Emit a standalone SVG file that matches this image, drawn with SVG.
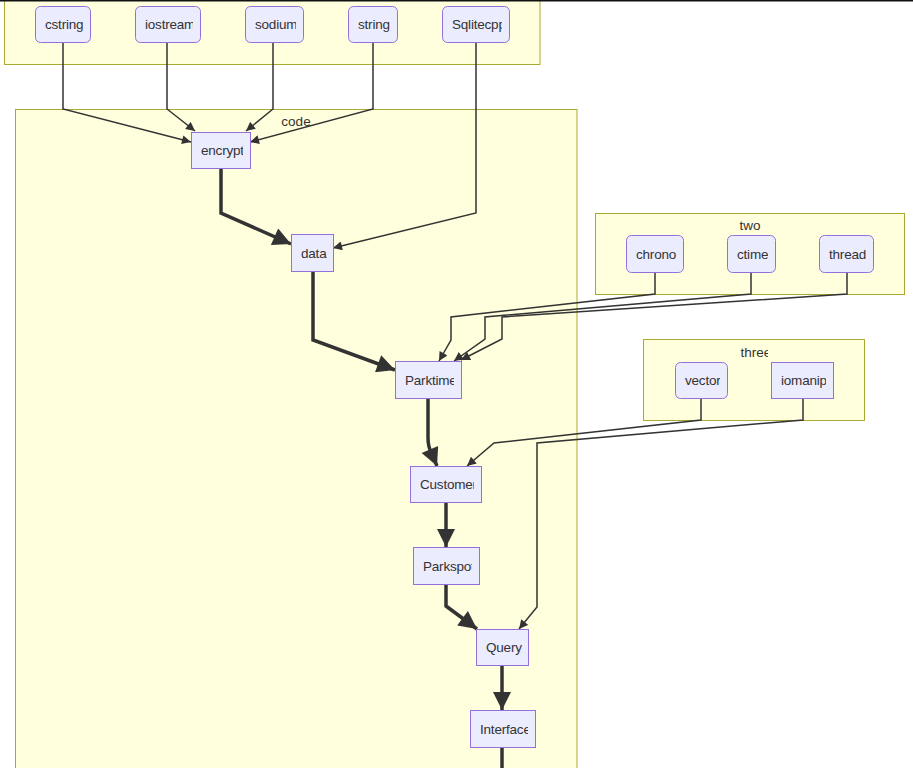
<svg xmlns="http://www.w3.org/2000/svg" width="913" height="768" viewBox="0 0 913 768">
<style>
.cl{fill:#ffffde;stroke:#aaaa33;stroke-width:1}
.nd{fill:#ececff;stroke:#9370db;stroke-width:1}
.t{font-family:"Liberation Sans",Arial,sans-serif;font-size:13.5px;letter-spacing:-0.2px;fill:#333}
.ct{font-family:"Liberation Sans",Arial,sans-serif;font-size:13.5px;fill:#333;text-anchor:middle}
.e{fill:none;stroke:#333;stroke-width:1.5}
.et{fill:none;stroke:#333;stroke-width:3.5}
</style>
<defs>
<marker id="a" viewBox="0 0 10 10" refX="10" refY="5" markerWidth="10" markerHeight="9" markerUnits="userSpaceOnUse" orient="auto"><path d="M0,0L10,5L0,10z" fill="#333"/></marker>
<marker id="A" viewBox="0 0 10 10" refX="10" refY="5" markerWidth="21" markerHeight="18" markerUnits="userSpaceOnUse" orient="auto"><path d="M0,0L10,5L0,10z" fill="#333"/></marker>
<clipPath id="c1"><rect x="35" y="6" width="48" height="36"/></clipPath>
<clipPath id="c2"><rect x="135" y="6" width="58" height="36"/></clipPath>
<clipPath id="c3"><rect x="245" y="6" width="51" height="36"/></clipPath>
<clipPath id="c4"><rect x="348" y="6" width="42" height="36"/></clipPath>
<clipPath id="c5"><rect x="442" y="6" width="60" height="36"/></clipPath>
<clipPath id="c6"><rect x="191" y="132" width="52" height="36"/></clipPath>
<clipPath id="c7"><rect x="291" y="234" width="36" height="37"/></clipPath>
<clipPath id="c8"><rect x="395" y="361" width="59" height="37"/></clipPath>
<clipPath id="c9"><rect x="410" y="466" width="64" height="36"/></clipPath>
<clipPath id="c10"><rect x="413" y="547" width="59" height="37"/></clipPath>
<clipPath id="c11"><rect x="476" y="629" width="47" height="36"/></clipPath>
<clipPath id="c12"><rect x="470" y="710" width="58" height="37"/></clipPath>
<clipPath id="c13"><rect x="626" y="235" width="51" height="37"/></clipPath>
<clipPath id="c14"><rect x="727" y="235" width="41" height="37"/></clipPath>
<clipPath id="c15"><rect x="819" y="235" width="47" height="37"/></clipPath>
<clipPath id="c16"><rect x="675" y="362" width="45" height="36"/></clipPath>
<clipPath id="c17"><rect x="771" y="362" width="55" height="36"/></clipPath>
<clipPath id="c18"><rect x="700" y="340" width="68" height="20"/></clipPath>
</defs>
<rect x="0" y="0" width="913" height="768" fill="#fff"/>
<g id="cluster-top"><rect class="cl" x="4.5" y="-10" width="535.5" height="74.5"/></g>
<g id="cluster-code"><rect class="cl" x="15.5" y="109.5" width="561.5" height="670"/><text class="ct" x="296" y="126">code</text></g>
<g id="cluster-two"><rect class="cl" x="595.5" y="213.5" width="309" height="81"/><text class="ct" x="750" y="230">two</text></g>
<g id="cluster-three"><rect class="cl" x="643.5" y="339.5" width="221" height="81"/><text class="ct" x="756" y="357" clip-path="url(#c18)">three</text></g>
<rect x="0" y="0" width="913" height="1.5" fill="#111"/>
<g id="edges">
<path class="e" d="M63,42V109L191,142" marker-end="url(#a)"/>
<path class="e" d="M167,42V109L195,131" marker-end="url(#a)"/>
<path class="e" d="M273,42V109L246,131" marker-end="url(#a)"/>
<path class="e" d="M373,42V109L250,142" marker-end="url(#a)"/>
<path class="e" d="M476,42V213L333,248" marker-end="url(#a)"/>
<path class="et" d="M221,168V213L291,244" marker-end="url(#A)"/>
<path class="et" d="M313,271V340L395,370" marker-end="url(#A)"/>
<path class="e" d="M655,272V294L451,317V340L439,361" marker-end="url(#a)"/>
<path class="e" d="M751,272V294L485,317V339L454,361" marker-end="url(#a)"/>
<path class="e" d="M847,272V294L502,317V339L461,360" marker-end="url(#a)"/>
<path class="et" d="M428,398V438Q428,446 431,452L437,466" marker-end="url(#A)"/>
<path class="e" d="M701,398V420L494,443L467,466" marker-end="url(#a)"/>
<path class="e" d="M803,398V420L537,443V607L519,629" marker-end="url(#a)"/>
<path class="et" d="M446,502V547" marker-end="url(#A)"/>
<path class="et" d="M446,584V606L477,629" marker-end="url(#A)"/>
<path class="et" d="M502,665V710" marker-end="url(#A)"/>
<path class="et" d="M502,747V768"/>
</g>
<g id="cstring"><rect class="nd" x="35.5" y="6.5" width="55" height="36" rx="5"/><text class="t" x="45" y="29" clip-path="url(#c1)">cstring</text></g>
<g id="iostream"><rect class="nd" x="135.5" y="6.5" width="65" height="36" rx="5"/><text class="t" x="145" y="29" clip-path="url(#c2)">iostream</text></g>
<g id="sodium"><rect class="nd" x="245.5" y="6.5" width="58" height="36" rx="5"/><text class="t" x="255" y="29" clip-path="url(#c3)">sodium</text></g>
<g id="string"><rect class="nd" x="348.5" y="6.5" width="49" height="36" rx="5"/><text class="t" x="358" y="29" clip-path="url(#c4)">string</text></g>
<g id="Sqlitecpp"><rect class="nd" x="442.5" y="6.5" width="67" height="36" rx="5"/><text class="t" x="452" y="29" clip-path="url(#c5)">Sqlitecpp</text></g>
<g id="encrypt"><rect class="nd" x="191.5" y="132.5" width="59" height="36"/><text class="t" x="201" y="155" clip-path="url(#c6)">encrypt</text></g>
<g id="data"><rect class="nd" x="291.5" y="234.5" width="42" height="37"/><text class="t" x="301" y="258" clip-path="url(#c7)">data</text></g>
<g id="Parktime"><rect class="nd" x="395.5" y="361.5" width="66" height="37"/><text class="t" x="405" y="385" clip-path="url(#c8)">Parktime</text></g>
<g id="Customer"><rect class="nd" x="410.5" y="466.5" width="71" height="36"/><text class="t" x="420" y="489" clip-path="url(#c9)">Customer</text></g>
<g id="Parkspot"><rect class="nd" x="413.5" y="547.5" width="66" height="37"/><text class="t" x="423" y="571" clip-path="url(#c10)">Parkspot</text></g>
<g id="Query"><rect class="nd" x="476.5" y="629.5" width="52" height="36"/><text class="t" x="486" y="652" clip-path="url(#c11)">Query</text></g>
<g id="Interface"><rect class="nd" x="470.5" y="710.5" width="65" height="37"/><text class="t" x="480" y="734" clip-path="url(#c12)">Interface</text></g>
<g id="chrono"><rect class="nd" x="626.5" y="235.5" width="57" height="37" rx="5"/><text class="t" x="636" y="259" clip-path="url(#c13)">chrono</text></g>
<g id="ctime"><rect class="nd" x="727.5" y="235.5" width="48" height="37" rx="5"/><text class="t" x="737" y="259" clip-path="url(#c14)">ctime</text></g>
<g id="thread"><rect class="nd" x="819.5" y="235.5" width="54" height="37" rx="5"/><text class="t" x="829" y="259" clip-path="url(#c15)">thread</text></g>
<g id="vector"><rect class="nd" x="675.5" y="362.5" width="52" height="36" rx="5"/><text class="t" x="685" y="385" clip-path="url(#c16)">vector</text></g>
<g id="iomanip"><rect class="nd" x="771.5" y="362.5" width="62" height="36"/><text class="t" x="781" y="385" clip-path="url(#c17)">iomanip</text></g>
</svg>
